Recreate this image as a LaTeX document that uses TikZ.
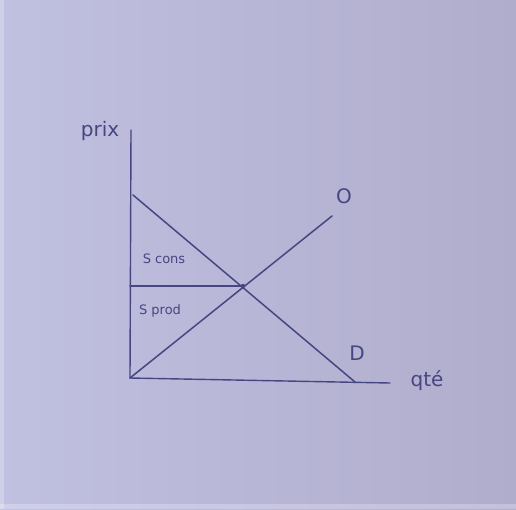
\documentclass[tikz,border=0pt]{standalone}
\usepackage{fontspec}
\setmainfont{DejaVu Sans}
\definecolor{paper}{RGB}{192,192,224}
\definecolor{paperR}{RGB}{176,172,204}
\definecolor{ink}{RGB}{70,70,130}
\tikzset{
  curve/.style={draw=ink, line width=1.5pt, line cap=round},
  axis/.style={draw=ink, line width=1.4pt, line cap=round},
  hand/.style={text=ink, inner sep=0pt, font=\fontsize{20}{22}\selectfont},
  small/.style={text=ink, inner sep=0pt, font=\fontsize{13}{15}\selectfont},
}
\begin{document}
\begin{tikzpicture}[x=1pt,y=-1pt]
\useasboundingbox (0,0) rectangle (516,509);
\shade[left color=paper, right color=paperR] (0,0) rectangle (516,509);
\fill[white, opacity=0.25] (0,0) rectangle (4,509);
\fill[white, opacity=0.25] (0,504) rectangle (516,509);
% coordinates
\coordinate (O) at (130,378);
\coordinate (Ytop) at (131,130);
\coordinate (Xend) at (390,383);
\coordinate (Dstart) at (133,195);
\coordinate (Dend) at (355,382);
\coordinate (Send) at (332,216);
\coordinate (Eq) at (243,286);
\coordinate (Pe) at (130,286);
% axes
\draw[axis] (O) -- (Ytop);
\draw[axis] (O) -- (Xend);
% curves
\draw[curve] (Dstart) -- (Dend);
\draw[curve] (O) -- (Send);
\draw[axis] (Pe) -- (Eq);
\fill[ink] (Eq) circle (2.2pt);
% labels
\node[hand] (ylab) at (100,131) {prix};
\node[hand] (xlab) at (427,381) {qté};
\node[hand] (slab) at (344,196) {O};
\node[hand] (dlab) at (357,353) {D};
\node[small] (scons) at (164,259) {S cons};
\node[small] (sprod) at (160,311) {S prod};
\end{tikzpicture}
\end{document}
